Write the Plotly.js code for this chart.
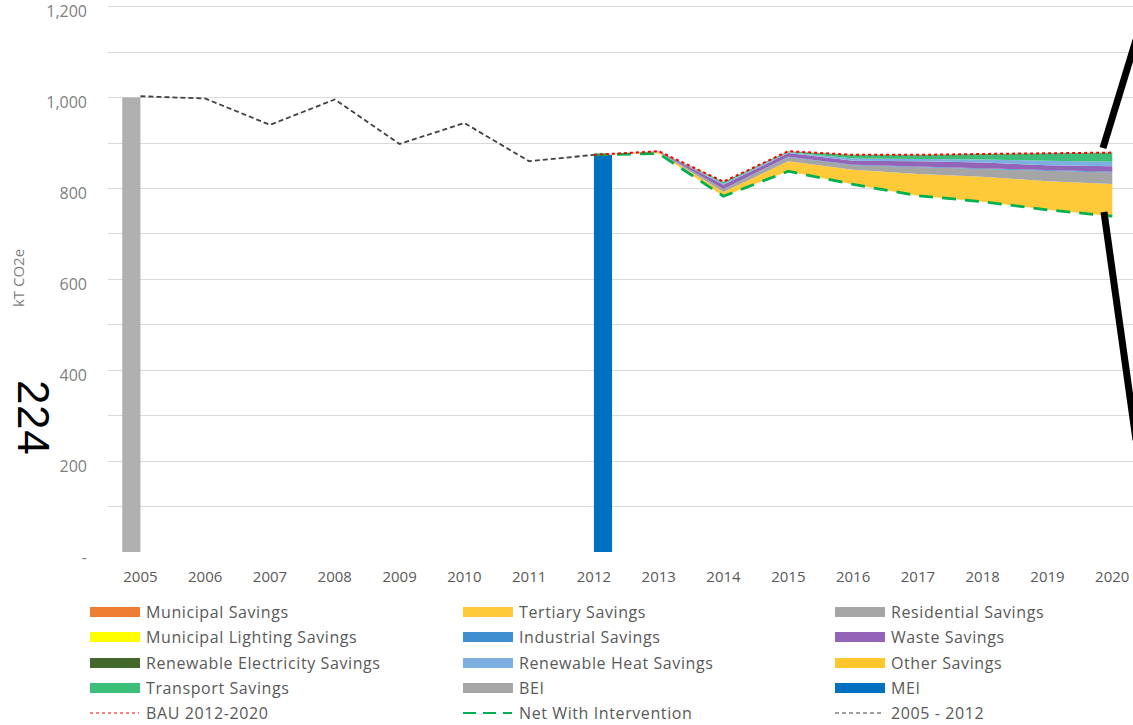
<!DOCTYPE html>
<html>
<head>
<meta charset="utf-8">
<script src="https://cdn.plot.ly/plotly-3.0.1.min.js"></script>
<style>
html,body{margin:0;padding:0;background:#fff;overflow:hidden;}
#chart{width:1133px;height:725px;}
.annotation-text{letter-spacing:0.6px;}
</style>
</head>
<body>
<div id="chart"></div>
<script>
// ---------- DATA ----------
const years = [2005,2006,2007,2008,2009,2010,2011,2012,2013,2014,2015,2016,2017,2018,2019,2020];
const yearLabels = years.map(String);
const histYears = [2005,2006,2007,2008,2009,2010,2011,2012];
const hist = [1003,998,940,996,898,944,860,874];           // 2005 - 2012
const bei = [1000,null,null,null,null,null,null,null,null,null,null,null,null,null,null,null];
const mei = [null,null,null,null,null,null,null,874,null,null,null,null,null,null,null,null];
const planYears = [2012,2013,2014,2015,2016,2017,2018,2019,2020];
const bau = [874,882,815,882,874,874,876,877,879];          // BAU 2012-2020
const net = [874,877,783,838,809,784,771,753,739];          // Net With Intervention
const municipal = [0,0,0,0,0,0,0,0,0];
const tertiary = [0,3,9,22,32,48,55,63,71];
const residential = [0,1,7,9,10,15,17,23,25];
const municipalLighting = [0,0,0,0,0,0,0,0,0];
const industrial = [0,0,0,1,1,1,2,2,2];
const waste = [0,1,9,8,9,12,12,10,12];
const renewableElectricity = [0,0,0,0,0,0,0,0,0];
const renewableHeat = [0,0,3,2,5,5,7,10,10];
const otherSavings = [0,0,0,0,0,0,0,0,0];
const transport = [0,0,4,2,8,9,12,16,20];
const yTickVals = [0,200,400,600,800,1000,1200];
const yTickText = ['-','200','400','600','800','1,000','1,200'];
const legendNames = ['Municipal Savings','Tertiary Savings','Residential Savings',
  'Municipal Lighting Savings','Industrial Savings','Waste Savings',
  'Renewable Electricity Savings','Renewable Heat Savings','Other Savings',
  'Transport Savings','BEI','MEI',
  'BAU 2012-2020','Net With Intervention','2005 - 2012'];

// ---------- STYLE ----------
const C = {
  municipal:'#ED7D31', tertiary:'#FFCA3A', residential:'#A5A5A5', lighting:'#FFFF00',
  industrial:'#3E8ED0', waste:'#9464B8', relec:'#43682B', rheat:'#7DB0E0',
  other:'#FFC72C', transport:'#3DBE78', bei:'#B0B0B0', mei:'#0070C0',
  bau:'#FF0000', net:'#00B050', hist:'#404040'
};
const FONT = 'Open Sans, sans-serif';
const L=108, R=1133, T=4, B=552;
const px = x => (x-L)/(R-L);
const py = y => (B-y)/(B-T);

const traces = [];
traces.push({type:'bar', x:years, y:bei, name:'BEI', marker:{color:C.bei}, hoverinfo:'y'});
traces.push({type:'bar', x:years, y:mei, name:'MEI', marker:{color:C.mei}, hoverinfo:'y'});

// stacked savings on top of the net line
traces.push({type:'scatter', x:planYears, y:net, stackgroup:'s', fill:'none', mode:'lines',
  line:{width:0, color:'rgba(0,0,0,0)'}, showlegend:false, hoverinfo:'skip'});
const stack = [
  ['Municipal Savings', municipal, C.municipal],
  ['Tertiary Savings', tertiary, C.tertiary],
  ['Residential Savings', residential, C.residential],
  ['Municipal Lighting Savings', municipalLighting, C.lighting],
  ['Industrial Savings', industrial, C.industrial],
  ['Waste Savings', waste, C.waste],
  ['Renewable Electricity Savings', renewableElectricity, C.relec],
  ['Renewable Heat Savings', renewableHeat, C.rheat],
  ['Other Savings', otherSavings, C.other],
  ['Transport Savings', transport, C.transport]
];
stack.forEach(([n,v,c]) => traces.push({type:'scatter', x:planYears, y:v, name:n,
  stackgroup:'s', fill:'tonexty', fillcolor:c, mode:'lines', line:{width:0, color:c}}));

traces.push({type:'scatter', x:histYears, y:hist, name:'2005 - 2012', mode:'lines',
  line:{color:C.hist, width:1.8, dash:'5px,3px'}});
traces.push({type:'scatter', x:planYears, y:net, name:'Net With Intervention', mode:'lines',
  line:{color:C.net, width:2.8, dash:'14px,9px'}});
traces.push({type:'scatter', x:planYears, y:bau, name:'BAU 2012-2020', mode:'lines',
  line:{color:C.bau, width:2, dash:'dot'}});

// ---------- custom legend ----------
const shapes = [], annotations = [];
const colX = [90,463,835], rowY = [612,637,663,688,713];
const legendStyles = [
  {t:'rect',c:C.municipal},{t:'rect',c:C.tertiary},{t:'rect',c:C.residential},
  {t:'rect',c:C.lighting},{t:'rect',c:C.industrial},{t:'rect',c:C.waste},
  {t:'rect',c:C.relec},{t:'rect',c:C.rheat},{t:'rect',c:C.other},
  {t:'rect',c:C.transport},{t:'rect',c:'#A6A6A6'},{t:'rect',c:C.mei},
  {t:'line',c:C.bau,w:1.2,d:'dot'},{t:'line',c:C.net,w:2,d:'13px,7px'},{t:'line',c:C.hist,w:1.2,d:'4px,3px'}
];
legendNames.forEach((n,i) => {
  const cx = colX[i%3], cy = rowY[Math.floor(i/3)], s = legendStyles[i];
  if (s.t==='rect') {
    shapes.push({type:'rect', xref:'paper', yref:'paper', x0:px(cx), x1:px(cx+50),
      y0:py(cy+5), y1:py(cy-5), fillcolor:s.c, line:{width:0}});
  } else {
    shapes.push({type:'line', xref:'paper', yref:'paper', x0:px(cx), x1:px(cx+49),
      y0:py(cy), y1:py(cy), line:{color:s.c, width:s.w, dash:s.d}});
  }
  annotations.push({xref:'paper', yref:'paper', x:px(cx+54), y:py(cy), text:n,
    showarrow:false, xanchor:'left', yanchor:'middle',
    font:{family:FONT, size:16, color:'#595959'}});
});

// page number and black callout lines from the scanned page
annotations.push({xref:'paper', yref:'paper', x:px(33), y:py(417), text:'224', textangle:90,
  showarrow:false, xanchor:'center', yanchor:'middle',
  font:{family:'Liberation Sans, Arial, sans-serif', size:44, color:'#000'}});
shapes.push({type:'line', xref:'paper', yref:'paper', x0:px(1103), y0:py(148), x1:px(1136), y1:py(40),
  line:{color:'#000', width:7}});
shapes.push({type:'line', xref:'paper', yref:'paper', x0:px(1104), y0:py(212), x1:px(1136), y1:py(440),
  line:{color:'#000', width:7}});

const layout = {
  width:1133, height:725,
  margin:{l:L, r:1133-R, t:T, b:725-B, pad:0},
  paper_bgcolor:'#fff', plot_bgcolor:'#fff',
  showlegend:false,
  barmode:'group', bargap:0.44, bargroupgap:0,
  font:{family:FONT, size:14, color:'#595959'},
  xaxis:{type:'linear', range:[2004.5,2020.32], tickmode:'array', tickvals:years, ticktext:yearLabels,
    showgrid:false, zeroline:false, showline:false, ticks:'', ticklabelstandoff:14,
    tickfont:{family:FONT, size:15, color:'#595959'}},
  yaxis:{range:[0,1206], tickmode:'array', tickvals:yTickVals, ticktext:yTickText,
    showgrid:true, gridcolor:'#D9D9D9', gridwidth:1, zeroline:false, showline:false, ticks:'',
    ticklabelstandoff:20, ticklabeloverflow:'allow', ticklabelshift:5,
    minor:{tickmode:'linear', tick0:0, dtick:100, showgrid:true, gridcolor:'#D9D9D9', gridwidth:1, ticks:''},
    tickfont:{family:FONT, size:16, color:'#808080'},
    title:{text:'kT CO2e', font:{family:FONT, size:15, color:'#808080'}, standoff:18}},
  shapes:shapes, annotations:annotations
};

Plotly.newPlot('chart', traces, layout, {staticPlot:true, displayModeBar:false});
</script>
</body>
</html>
